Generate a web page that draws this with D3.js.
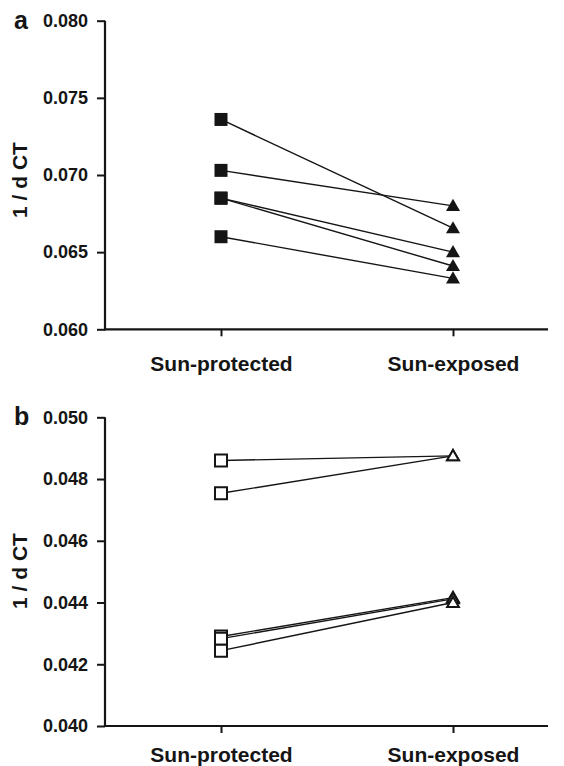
<!DOCTYPE html>
<html>
<head>
<meta charset="utf-8">
<script src="https://cdn.jsdelivr.net/npm/d3@7"></script>
<style>
  body { margin: 0; background: #fff; }
  svg { display: block; font-family: "Liberation Sans", Arial, sans-serif; font-weight: bold; }
</style>
</head>
<body>
<div id="chart"></div>
<script>
// categories on the x axis
const groups = ["Sun-protected", "Sun-exposed"];

// panel a: filled markers
const aProtected = [0.0736, 0.0703, 0.0685, 0.0685, 0.0660];
const aExposed   = [0.06655, 0.0680, 0.0650, 0.0641, 0.0633];
const aTicks = [0.060, 0.065, 0.070, 0.075, 0.080];

// panel b: open markers
const bProtected = [0.0486, 0.04754, 0.0429, 0.04283, 0.04244];
const bExposed   = [0.04875, 0.04875, 0.04416, 0.04412, 0.0440];
const bTicks = [0.040, 0.042, 0.044, 0.046, 0.048, 0.050];

const width = 564, height = 766;
const ink = "#151515";

const svg = d3.select("#chart").append("svg")
  .attr("width", width)
  .attr("height", height);

const panels = [
  { letter: "a", prot: aProtected, expo: aExposed, ticks: aTicks, domain: [0.060, 0.080],
    top: 20.7, bottom: 329.3, filled: true, labelY: 180, xLabelDy: 42 },
  { letter: "b", prot: bProtected, expo: bExposed, ticks: bTicks, domain: [0.040, 0.050],
    top: 417.3, bottom: 726, filled: false, labelY: 571, xLabelDy: 36 }
];

const axisLeft = 105, axisRight = 548;

const x = d3.scalePoint()
  .domain(groups)
  .range([221, 453]);

const square = d3.symbol().type(d3.symbolSquare).size(13 * 13);
const triangle = d3.symbol().type(d3.symbolTriangle).size(80);

panels.forEach(p => {
  const g = svg.append("g");

  const y = d3.scaleLinear()
    .domain(p.domain)
    .range([p.bottom, p.top]);

  // y axis
  const yAxis = g.append("g")
    .attr("transform", `translate(${axisLeft},0)`)
    .call(d3.axisLeft(y).tickValues(p.ticks).tickFormat(d3.format(".3f")).tickSizeOuter(0).tickSize(8).tickPadding(9));
  yAxis.select(".domain").remove();
  yAxis.selectAll(".tick line").attr("stroke", ink).attr("stroke-width", 2);
  yAxis.selectAll(".tick text").attr("fill", ink).attr("font-size", 18).attr("font-weight", "bold")
    .attr("font-family", "Liberation Sans, Arial, sans-serif");

  g.append("line")
    .attr("x1", axisLeft).attr("x2", axisLeft)
    .attr("y1", p.top).attr("y2", p.bottom + 1)
    .attr("stroke", ink).attr("stroke-width", 2.2);

  // x axis
  const xAxis = g.append("g")
    .attr("transform", `translate(0,${p.bottom})`)
    .call(d3.axisBottom(x).tickSize(7).tickSizeOuter(0).tickPadding(p.xLabelDy - 7 - 15));
  xAxis.select(".domain").remove();
  xAxis.selectAll(".tick line").attr("stroke", ink).attr("stroke-width", 2);
  xAxis.selectAll(".tick text").attr("fill", ink).attr("font-size", 21).attr("font-weight", "bold")
    .attr("font-family", "Liberation Sans, Arial, sans-serif")
    .attr("dy", "0.71em");

  g.append("line")
    .attr("x1", axisLeft - 1).attr("x2", axisRight)
    .attr("y1", p.bottom).attr("y2", p.bottom)
    .attr("stroke", ink).attr("stroke-width", 2.2);

  // panel letter
  g.append("text")
    .attr("x", 14)
    .attr("y", y(p.domain[1]) + 8)
    .attr("font-size", 25)
    .attr("fill", ink)
    .text(p.letter);

  // y title
  g.append("text")
    .attr("transform", `translate(27,${p.labelY}) rotate(-90)`)
    .attr("text-anchor", "middle")
    .attr("font-size", 21)
    .attr("fill", ink)
    .text("1 / d CT");

  const pairs = p.prot.map((v, i) => [v, p.expo[i]]);

  // connecting lines
  g.selectAll(".pair")
    .data(pairs)
    .join("line")
    .attr("class", "pair")
    .attr("x1", x(groups[0]))
    .attr("y1", d => y(d[0]))
    .attr("x2", x(groups[1]))
    .attr("y2", d => y(d[1]))
    .attr("stroke", ink)
    .attr("stroke-width", 1.4);

  // markers
  g.selectAll(".sq")
    .data(p.prot)
    .join("path")
    .attr("class", "sq")
    .attr("d", p.filled ? square : d3.symbol().type(d3.symbolSquare).size(12 * 12))
    .attr("transform", d => `translate(${x(groups[0])},${y(d)})`)
    .attr("fill", p.filled ? ink : "#fff")
    .attr("stroke", ink)
    .attr("stroke-width", p.filled ? 0 : 2);

  g.selectAll(".tri")
    .data(p.expo)
    .join("path")
    .attr("class", "tri")
    .attr("d", p.filled ? d3.symbol().type(d3.symbolTriangle).size(85)
                        : d3.symbol().type(d3.symbolTriangle).size(60))
    .attr("transform", d => `translate(${x(groups[1])},${y(d) + 1})`)
    .attr("fill", p.filled ? ink : "#fff")
    .attr("stroke", ink)
    .attr("stroke-width", p.filled ? 0 : 2);
});
</script>
</body>
</html>
